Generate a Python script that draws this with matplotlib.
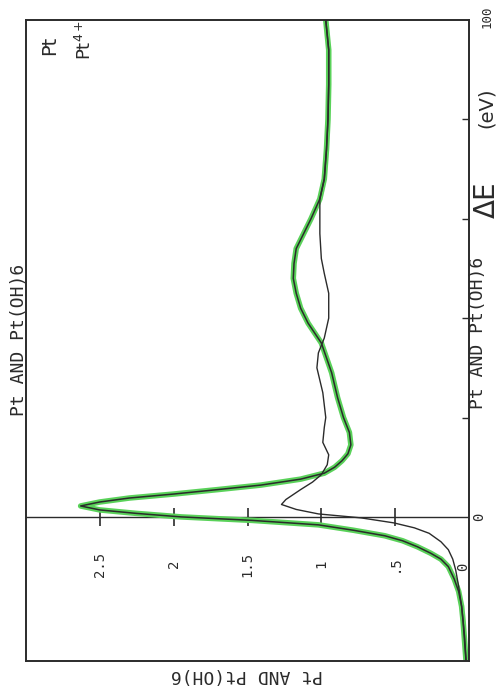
import matplotlib
matplotlib.use("Agg")
import matplotlib.pyplot as plt

# scanned XANES plot (Pt and Pt(OH)6), drawn sideways like the scan
# energy relative to edge (eV) and normalised absorption

PT4_E = [-29, -25, -21, -18, -15, -12.5, -10, -8.5, -7.3, -6, -4.8, -3.8, -2.7,
         -1.6, -0.7, 0, 0.7, 1.4, 2.2, 3.0, 3.8, 4.6, 5.5, 6.4, 7.6, 8.8, 10,
         11.3, 12.7, 14.5, 17, 20, 24, 29, 35, 39, 42, 45, 48, 51, 54, 57, 60,
         64, 68, 74, 80, 87, 94, 100]
PT4_MU = [0.02, 0.03, 0.04, 0.05, 0.07, 0.10, 0.14, 0.19, 0.26, 0.35, 0.45, 0.57,
          0.78, 1.02, 1.47, 1.95, 2.25, 2.50, 2.63, 2.50, 2.30, 2.00, 1.70, 1.41,
          1.14, 0.98, 0.91, 0.86, 0.82, 0.80, 0.81, 0.85, 0.89, 0.93, 1.00, 1.09,
          1.14, 1.17, 1.19, 1.185, 1.17, 1.12, 1.07, 1.01, 0.98, 0.965, 0.955,
          0.95, 0.95, 0.97]

PT_E = [-29, -24, -18, -14, -10.7, -8.5, -6.6, -5, -3.3, -2.2, -1.2, -0.2, 0.6,
        1.5, 2.5, 3.5, 4.5, 5.5, 7, 8.5, 10.5, 12.5, 15, 18, 20, 25, 30, 33,
        36, 40, 45, 49, 52, 57, 64, 68, 74, 80, 87, 94, 100]
PT_MU = [0.02, 0.03, 0.05, 0.07, 0.09, 0.11, 0.14, 0.19, 0.27, 0.37, 0.51, 0.73,
         1.02, 1.17, 1.27, 1.24, 1.19, 1.14, 1.06, 1.00, 0.96, 0.95, 0.99, 0.98,
         0.97, 0.99, 1.03, 1.02, 0.98, 0.95, 0.95, 0.98, 1.00, 1.01, 1.01, 0.98,
         0.965, 0.955, 0.95, 0.95, 0.97]

ABS_TICKS = [0.5, 1, 1.5, 2, 2.5]
ABS_LABELS = [".5", "1", "1.5", "2", "2.5"]
E_TICKS = [20, 40, 60, 80]

TITLE = "Pt AND Pt(OH)6"
MONO = "DejaVu Sans Mono"
INK = "#2b2b2b"
GREEN = "#5ad25a"

fig = plt.figure(figsize=(5.04, 6.93), dpi=100)
ax = fig.add_axes([26 / 504, 1 - 661 / 693, 443 / 504, 641 / 693])
ax.set_xlim(3, 0)
ax.set_ylim(-29, 100)

for s in ax.spines.values():
    s.set_color(INK)
    s.set_linewidth(1.4)

ax.set_xticks([])
ax.set_yticks(E_TICKS)
ax.tick_params(axis="y", left=False, right=True, direction="in", length=5,
               width=1, color=INK, labelleft=False, labelright=False)

# energy zero line with the absorption ticks across it
ax.axhline(0, color=INK, lw=1)
ax.plot(ABS_TICKS, [0] * len(ABS_TICKS), ls="none", marker="|", ms=13,
        mew=1.2, color=INK)
for v, lab in zip(ABS_TICKS, ABS_LABELS):
    ax.text(v, -9.5, lab, rotation=90, ha="center", va="center",
            fontsize=10, family=MONO, color=INK)
ax.text(0.04, -10, "0", rotation=90, ha="center", va="center",
        fontsize=10, family=MONO, color=INK)

# curves: green marker pen over the Pt4+ trace
ax.plot(PT4_MU, PT4_E, color=GREEN, lw=4, solid_capstyle="round")
ax.plot(PT4_MU, PT4_E, color=INK, lw=1.1)
ax.plot(PT_MU, PT_E, color=INK, lw=1.0)

# printed labels round the frame
fig.text(19 / 504, 1 - 340 / 693, TITLE, rotation=90, ha="center",
         va="center", fontsize=13, family=MONO, color=INK)
fig.text(478 / 504, 1 - 333 / 693, TITLE, rotation=90, ha="center",
         va="center", fontsize=13, family=MONO, color=INK)
fig.text(247 / 504, 1 - 675 / 693, TITLE, rotation=180, ha="center",
         va="center", fontsize=13, family=MONO, color=INK)
fig.text(479 / 504, 1 - 517 / 693, "0", rotation=90, ha="center",
         va="center", fontsize=10, family=MONO, color=INK)
fig.text(487 / 504, 1 - 17 / 693, "100", rotation=90, ha="center",
         va="center", fontsize=9, family=MONO, color=INK)

# handwritten notes
fig.text(487 / 504, 1 - 200 / 693, "\u0394E", rotation=90, ha="center",
         va="center", fontsize=20, color=INK)
fig.text(486 / 504, 1 - 108 / 693, "(eV)", rotation=90, ha="center",
         va="center", fontsize=14, color=INK)
fig.text(50 / 504, 1 - 45 / 693, "Pt", rotation=90, ha="center",
         va="center", fontsize=14, color=INK)
fig.text(85 / 504, 1 - 40 / 693, "Pt$^{4+}$", rotation=90, ha="center",
         va="center", fontsize=13, color=INK)

fig.savefig("out.png", dpi=100)
